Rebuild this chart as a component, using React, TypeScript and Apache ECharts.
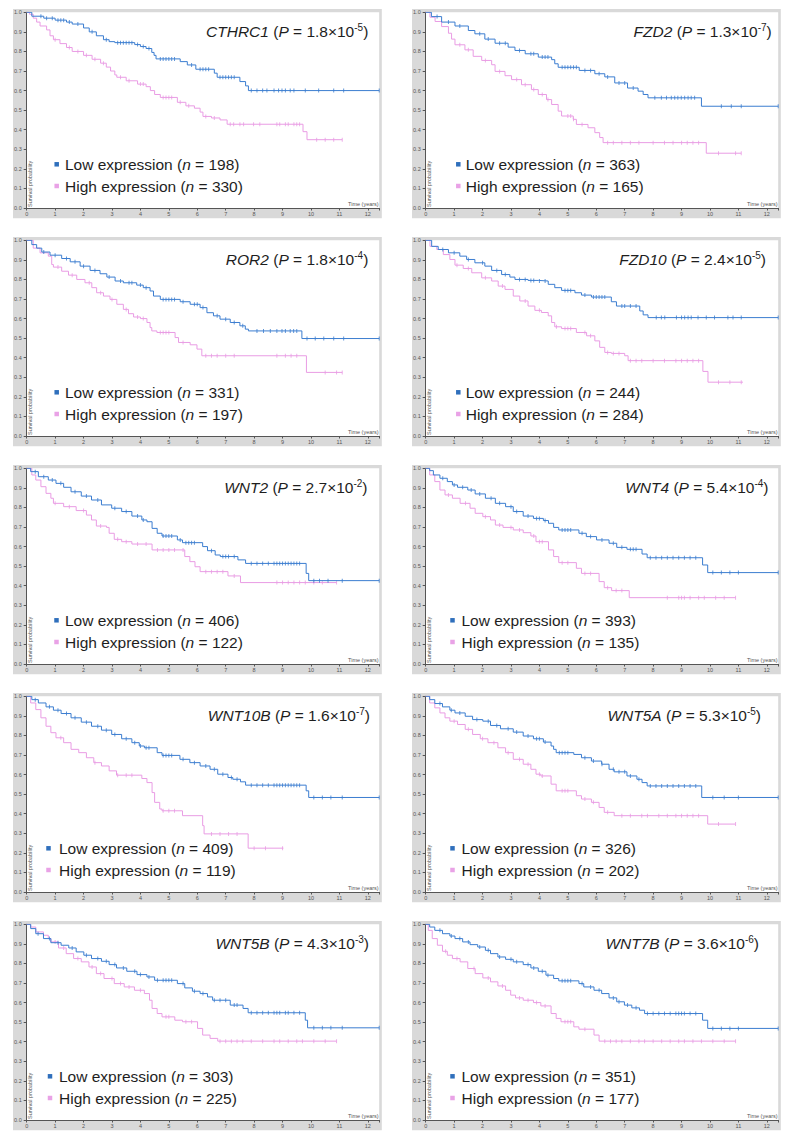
import React, { useEffect, useRef } from "react";
import * as echarts from "echarts";

type Pt = [number, number];

// ---------------- DATA ----------------
const GENES = ["CTHRC1", "FZD2", "ROR2", "FZD10", "WNT2", "WNT4", "WNT10B", "WNT5A", "WNT5B", "WNT7B"];
const P_MANTISSA = ["1.8", "1.3", "1.8", "2.4", "2.7", "5.4", "1.6", "5.3", "4.3", "3.6"];
const P_EXPONENT = ["-5", "-7", "-4", "-5", "-2", "-4", "-7", "-5", "-3", "-6"];
const N_LOW = [198, 363, 331, 244, 406, 393, 409, 326, 303, 351];
const N_HIGH = [330, 165, 197, 284, 122, 135, 119, 202, 225, 177];
const X_MAX = 12.4;
const Y_TICK_LABELS = ["0.0", "0.1", "0.2", "0.3", "0.4", "0.5", "0.6", "0.7", "0.8", "0.9", "1.0"];

const CTHRC1_LOW: Pt[] = [[0,1],[0.18,0.98],[0.6,0.97],[1.0,0.96],[1.4,0.95],[1.6,0.94],[2.0,0.92],[2.2,0.9],[2.45,0.88],[2.7,0.86],[2.9,0.85],[3.1,0.845],[3.8,0.835],[4.0,0.825],[4.2,0.815],[4.4,0.795],[4.48,0.78],[4.55,0.762],[5.4,0.748],[5.65,0.731],[5.95,0.709],[6.6,0.689],[6.7,0.668],[7.5,0.646],[7.7,0.624],[7.8,0.6],[12.4,0.6]];
const CTHRC1_LOW_CENS = [0.5,0.7,0.9,1.1,1.2,1.3,1.5,1.8,2.3,2.8,3.2,3.3,3.4,3.5,3.6,3.7,3.9,4.1,4.3,4.7,4.8,4.9,5.0,5.1,5.2,5.8,6.1,6.2,6.3,6.4,6.8,6.9,7.0,7.1,7.2,7.3,7.9,8.1,8.3,8.45,8.7,8.86,8.98,9.1,9.27,9.4,9.8,10.27,10.8,11.15,12.4];
const CTHRC1_HIGH: Pt[] = [[0,1],[0.1,0.99],[0.23,0.97],[0.35,0.95],[0.47,0.93],[0.7,0.91],[0.82,0.88],[0.94,0.86],[1.17,0.84],[1.4,0.82],[1.6,0.8],[2.0,0.78],[2.3,0.76],[2.6,0.74],[2.8,0.72],[2.95,0.7],[3.1,0.68],[3.17,0.668],[3.5,0.65],[3.9,0.633],[4.2,0.62],[4.35,0.6],[4.5,0.58],[4.7,0.565],[5.3,0.54],[5.6,0.522],[5.9,0.51],[6.1,0.49],[6.2,0.468],[6.5,0.46],[6.8,0.45],[7.05,0.428],[9.72,0.39],[9.86,0.349],[11.1,0.349]];
const CTHRC1_HIGH_CENS = [1.0,1.5,1.8,2.1,2.4,2.7,3.3,3.6,4.0,4.1,4.8,4.9,5.0,5.1,5.4,5.7,6.3,6.6,7.16,7.28,7.5,7.63,7.98,8.2,8.8,8.9,9.1,9.2,9.4,9.5,9.6,10.2,10.5,10.8,11.1];

const FZD2_LOW: Pt[] = [[0,1],[0.2,0.978],[0.56,0.95],[1.03,0.93],[1.5,0.907],[1.73,0.89],[2.08,0.863],[2.44,0.842],[2.9,0.822],[3.14,0.805],[3.5,0.788],[3.96,0.771],[4.43,0.758],[4.54,0.737],[4.66,0.719],[5.4,0.703],[5.95,0.686],[6.3,0.67],[6.65,0.639],[7.1,0.613],[7.47,0.597],[7.65,0.58],[7.82,0.563],[9.7,0.52],[12.4,0.52]];
const FZD2_LOW_CENS = [0.4,0.8,1.2,1.9,2.2,2.6,2.8,3.3,3.7,3.8,4.1,4.2,4.3,4.8,4.9,5.0,5.1,5.2,5.3,5.6,5.8,6.1,6.4,6.8,7.0,7.3,8.06,8.29,8.47,8.64,8.76,8.87,8.99,9.11,9.23,9.34,9.46,10.4,10.75,11.1,12.4];
const FZD2_HIGH: Pt[] = [[0,1],[0.15,0.975],[0.33,0.953],[0.56,0.927],[0.8,0.893],[0.91,0.863],[1.03,0.834],[1.38,0.808],[1.67,0.775],[1.97,0.754],[2.32,0.732],[2.44,0.698],[2.79,0.676],[3.02,0.656],[3.37,0.63],[3.72,0.605],[3.96,0.58],[4.25,0.554],[4.43,0.529],[4.66,0.495],[4.78,0.47],[5.19,0.453],[5.3,0.427],[5.71,0.41],[5.95,0.385],[6.12,0.36],[6.24,0.334],[9.87,0.28],[11.1,0.28]];
const FZD2_HIGH_CENS = [1.2,1.5,2.1,2.6,3.2,3.5,3.8,4.1,4.3,5.0,5.1,5.2,5.5,6.4,6.6,6.9,7.2,7.5,8.0,8.4,8.7,9.0,9.2,9.4,9.6,10.3,10.9,11.1];

const ROR2_LOW: Pt[] = [[0,1],[0.18,0.978],[0.35,0.96],[0.53,0.94],[0.82,0.924],[1.23,0.907],[1.53,0.89],[1.88,0.868],[2.23,0.846],[2.58,0.829],[2.82,0.812],[3.11,0.792],[3.4,0.783],[3.87,0.771],[4.1,0.758],[4.34,0.741],[4.46,0.715],[4.7,0.698],[5.4,0.686],[5.75,0.673],[6.1,0.656],[6.34,0.63],[6.57,0.614],[6.8,0.597],[7.16,0.58],[7.5,0.563],[7.69,0.546],[7.8,0.537],[9.68,0.498],[12.4,0.498]];
const ROR2_LOW_CENS = [0.6,1.0,1.4,1.7,2.0,2.4,2.9,3.3,3.6,3.7,4.0,4.2,4.8,4.9,5.0,5.1,5.2,5.5,5.9,6.0,6.2,6.7,7.0,7.3,7.6,8.1,8.33,8.57,8.8,8.98,9.1,9.27,9.39,9.5,9.86,10.15,10.45,10.8,11.15,12.4];
const ROR2_HIGH: Pt[] = [[0,1],[0.23,0.96],[0.47,0.936],[0.76,0.919],[0.88,0.876],[0.94,0.863],[1.23,0.842],[1.47,0.822],[1.76,0.8],[2.05,0.783],[2.29,0.758],[2.46,0.732],[2.7,0.715],[2.93,0.698],[3.17,0.673],[3.4,0.647],[3.58,0.625],[3.76,0.608],[4.0,0.6],[4.23,0.58],[4.34,0.554],[4.4,0.537],[4.58,0.529],[5.22,0.503],[5.34,0.478],[5.75,0.466],[5.99,0.444],[6.16,0.41],[9.84,0.325],[11.1,0.325]];
const ROR2_HIGH_CENS = [1.1,1.6,2.2,2.6,3.0,3.5,3.9,4.1,4.7,4.8,4.9,5.0,5.5,6.3,6.5,6.7,7.0,7.3,8.8,9.1,9.3,9.5,10.5,10.9,11.1];

const FZD10_LOW: Pt[] = [[0,1],[0.21,0.969],[0.44,0.953],[0.8,0.936],[1.2,0.919],[1.44,0.902],[1.73,0.885],[2.08,0.868],[2.32,0.846],[2.67,0.825],[2.96,0.812],[3.14,0.8],[3.6,0.795],[3.96,0.792],[4.31,0.775],[4.54,0.758],[4.78,0.744],[5.25,0.732],[5.48,0.72],[5.83,0.71],[6.53,0.686],[6.71,0.664],[7.53,0.639],[7.65,0.619],[7.82,0.605],[12.4,0.605]];
const FZD10_LOW_CENS = [0.6,1.0,1.5,2.0,2.5,2.8,3.3,3.5,3.7,3.8,4.0,4.2,4.9,5.0,5.1,5.6,5.9,6.0,6.1,6.2,6.3,6.9,7.0,7.2,7.4,8.11,8.29,8.41,8.82,9.0,9.11,9.23,9.34,9.58,9.87,10.16,10.63,10.81,11.1,12.4];
const FZD10_HIGH: Pt[] = [[0,1],[0.15,0.969],[0.39,0.953],[0.62,0.927],[0.85,0.902],[1.03,0.873],[1.32,0.856],[1.62,0.834],[1.97,0.808],[2.32,0.792],[2.55,0.766],[2.79,0.749],[3.08,0.715],[3.31,0.69],[3.6,0.664],[3.84,0.642],[4.07,0.631],[4.31,0.614],[4.43,0.58],[4.54,0.558],[4.78,0.549],[5.3,0.529],[5.66,0.512],[5.95,0.486],[6.12,0.453],[6.3,0.427],[6.53,0.422],[7.0,0.41],[7.12,0.385],[9.75,0.33],[9.93,0.275],[11.16,0.275]];
const FZD10_HIGH_CENS = [1.1,1.5,2.1,2.7,3.5,4.0,4.6,4.9,5.0,5.1,5.6,5.8,6.4,6.6,6.8,7.2,7.4,7.6,8.0,8.4,8.8,9.0,9.2,9.4,9.6,10.3,10.7,11.1];

const WNT2_LOW: Pt[] = [[0,1],[0.14,0.983],[0.41,0.957],[0.76,0.94],[1.03,0.923],[1.3,0.903],[1.56,0.88],[1.92,0.858],[2.28,0.838],[2.63,0.813],[2.99,0.796],[3.34,0.779],[3.7,0.756],[4.05,0.736],[4.23,0.727],[4.41,0.693],[4.59,0.668],[4.76,0.654],[5.3,0.634],[5.48,0.62],[6.19,0.6],[6.36,0.579],[6.63,0.557],[6.81,0.549],[7.43,0.532],[7.7,0.514],[9.83,0.463],[9.92,0.426],[12.4,0.426]];
const WNT2_LOW_CENS = [0.3,0.6,0.9,1.2,1.7,2.1,2.5,3.1,3.5,3.9,4.1,4.8,4.9,5.0,5.1,5.4,5.6,5.7,5.8,5.9,6.5,6.9,7.0,7.1,7.3,7.9,8.1,8.3,8.5,8.7,8.8,8.9,9.0,9.1,9.2,9.3,9.4,9.5,9.6,10.1,10.3,10.6,11.1,12.4];
const WNT2_HIGH: Pt[] = [[0,1],[0.18,0.966],[0.32,0.94],[0.5,0.906],[0.68,0.872],[0.85,0.847],[0.94,0.821],[1.3,0.804],[1.74,0.784],[2.1,0.761],[2.28,0.736],[2.45,0.705],[2.81,0.698],[2.9,0.668],[3.08,0.637],[3.34,0.625],[3.7,0.613],[4.41,0.583],[5.56,0.549],[5.74,0.523],[5.92,0.497],[6.1,0.472],[7.08,0.45],[7.52,0.416],[10.9,0.416]];
const WNT2_HIGH_CENS = [1.0,1.5,2.0,2.6,3.2,3.5,3.9,4.2,4.6,4.8,5.0,5.2,5.5,6.3,6.5,6.7,6.9,7.3,8.8,9.0,9.2,9.4,9.6,9.8,10.1,10.4,10.9];

const WNT4_LOW: Pt[] = [[0,1],[0.14,0.988],[0.27,0.966],[0.5,0.949],[0.76,0.932],[0.94,0.915],[1.12,0.903],[1.48,0.889],[1.74,0.869],[2.1,0.847],[2.45,0.821],[2.81,0.804],[3.08,0.779],[3.43,0.756],[3.79,0.744],[4.14,0.733],[4.32,0.719],[4.5,0.698],[4.68,0.685],[5.39,0.668],[5.65,0.651],[6.01,0.634],[6.45,0.617],[6.72,0.596],[7.08,0.586],[7.61,0.562],[7.79,0.543],[9.74,0.506],[9.92,0.467],[12.4,0.467]];
const WNT4_LOW_CENS = [0.6,1.0,1.3,1.6,1.9,2.3,2.6,3.0,3.2,3.6,3.9,4.0,4.2,4.8,4.9,5.0,5.1,5.5,5.8,6.2,6.6,6.9,7.2,7.3,7.4,7.9,8.1,8.3,8.5,8.7,8.9,9.1,9.3,9.5,10.1,10.4,10.7,11.0,12.4];
const WNT4_HIGH: Pt[] = [[0,1],[0.14,0.966],[0.32,0.932],[0.5,0.889],[0.68,0.864],[0.94,0.847],[1.21,0.821],[1.56,0.796],[1.74,0.77],[2.01,0.753],[2.28,0.736],[2.45,0.71],[2.72,0.698],[3.08,0.685],[3.43,0.671],[3.7,0.654],[3.88,0.625],[4.32,0.583],[4.5,0.549],[4.68,0.518],[5.3,0.489],[5.48,0.463],[6.1,0.421],[6.28,0.39],[6.54,0.375],[7.16,0.339],[10.9,0.339]];
const WNT4_HIGH_CENS = [0.8,1.4,2.1,2.6,3.0,3.3,3.8,4.0,4.1,4.8,5.0,5.6,5.8,6.4,6.7,6.9,8.5,8.9,9.0,9.1,9.3,9.6,9.8,10.2,10.5,10.9];

const WNT10B_LOW: Pt[] = [[0,1],[0.18,0.983],[0.41,0.966],[0.68,0.946],[0.94,0.929],[1.21,0.912],[1.56,0.89],[1.92,0.868],[2.28,0.847],[2.63,0.827],[2.99,0.805],[3.34,0.783],[3.7,0.763],[3.96,0.746],[4.14,0.737],[4.59,0.712],[4.76,0.698],[5.39,0.678],[5.74,0.661],[6.1,0.644],[6.45,0.627],[6.72,0.602],[7.08,0.585],[7.25,0.576],[7.52,0.563],[7.7,0.546],[9.83,0.517],[9.92,0.483],[12.4,0.483]];
const WNT10B_LOW_CENS = [0.3,0.8,1.1,1.4,1.7,2.1,2.5,2.8,3.1,3.5,3.8,4.0,4.2,4.3,4.8,4.9,5.0,5.1,5.5,5.9,6.3,6.6,6.9,7.2,7.4,7.9,8.1,8.3,8.5,8.7,8.8,8.9,9.0,9.1,9.2,9.3,9.4,9.5,9.6,10.1,10.4,10.7,11.1,12.4];
const WNT10B_HIGH: Pt[] = [[0,1],[0.14,0.966],[0.32,0.932],[0.5,0.89],[0.68,0.847],[0.85,0.814],[1.03,0.788],[1.3,0.763],[1.56,0.729],[1.83,0.712],[2.1,0.686],[2.36,0.661],[2.63,0.644],[2.9,0.619],[3.16,0.597],[4.05,0.58],[4.23,0.559],[4.41,0.508],[4.5,0.458],[4.68,0.424],[4.76,0.415],[5.48,0.39],[6.19,0.339],[6.24,0.297],[7.79,0.224],[9.03,0.224]];
const WNT10B_HIGH_CENS = [1.2,2.4,3.2,3.5,3.7,4.8,5.0,5.2,6.5,6.8,7.1,7.4,8.0,8.4,9.0];

const WNT5A_LOW: Pt[] = [[0,1],[0.14,0.983],[0.32,0.963],[0.59,0.946],[0.85,0.929],[1.03,0.915],[1.39,0.898],[1.65,0.881],[2.01,0.873],[2.28,0.851],[2.63,0.834],[3.08,0.817],[3.43,0.797],[3.79,0.783],[4.14,0.766],[4.41,0.746],[4.5,0.729],[4.59,0.712],[5.21,0.703],[5.48,0.686],[5.83,0.669],[6.19,0.653],[6.45,0.627],[6.63,0.614],[7.08,0.593],[7.43,0.576],[7.61,0.559],[7.79,0.542],[9.71,0.483],[12.4,0.483]];
const WNT5A_LOW_CENS = [0.5,0.9,1.2,1.8,2.2,2.5,2.9,3.2,3.6,3.9,4.0,4.2,4.7,4.8,4.9,5.0,5.6,5.9,6.2,6.6,6.8,7.0,7.2,7.5,7.9,8.1,8.3,8.5,8.7,8.9,9.1,9.3,9.5,10.1,10.5,11.0,12.4];
const WNT5A_HIGH: Pt[] = [[0,1],[0.14,0.966],[0.32,0.941],[0.5,0.915],[0.68,0.89],[0.85,0.873],[1.12,0.856],[1.39,0.831],[1.65,0.805],[1.92,0.783],[2.19,0.763],[2.54,0.737],[2.81,0.712],[3.08,0.678],[3.43,0.653],[3.7,0.627],[3.88,0.602],[4.05,0.593],[4.41,0.551],[4.59,0.517],[5.3,0.492],[5.48,0.475],[5.83,0.458],[6.1,0.432],[6.28,0.407],[6.63,0.39],[9.92,0.347],[10.9,0.347]];
const WNT5A_HIGH_CENS = [1.0,1.5,2.0,2.4,2.9,3.3,3.6,4.0,4.1,4.8,4.9,5.0,5.6,5.9,6.4,6.9,7.2,7.6,7.8,8.2,8.5,8.8,9.0,9.2,9.4,9.6,10.3,10.9];

const WNT5B_LOW: Pt[] = [[0,1],[0.14,0.978],[0.32,0.952],[0.59,0.927],[0.85,0.906],[1.21,0.893],[1.48,0.879],[1.74,0.859],[2.01,0.842],[2.28,0.825],[2.63,0.811],[2.9,0.794],[3.16,0.777],[3.52,0.76],[3.88,0.743],[4.23,0.731],[4.5,0.714],[5.3,0.697],[5.56,0.675],[5.83,0.658],[6.1,0.646],[6.36,0.629],[6.54,0.612],[7.16,0.587],[7.61,0.57],[7.79,0.548],[9.8,0.51],[9.88,0.471],[12.4,0.471]];
const WNT5B_LOW_CENS = [0.4,0.8,1.1,1.6,2.1,2.5,2.8,3.1,3.4,3.8,4.0,4.3,4.6,4.8,4.9,5.0,5.1,5.5,5.9,6.2,6.6,6.8,7.0,7.3,7.4,7.9,8.1,8.3,8.5,8.7,8.8,8.9,9.1,9.2,9.4,9.6,10.1,10.4,10.7,11.1,12.4];
const WNT5B_HIGH: Pt[] = [[0,1],[0.14,0.986],[0.32,0.961],[0.59,0.944],[0.76,0.927],[0.85,0.91],[1.12,0.879],[1.39,0.85],[1.65,0.825],[1.92,0.808],[2.19,0.782],[2.45,0.748],[2.72,0.723],[3.08,0.697],[3.43,0.68],[3.79,0.663],[4.14,0.646],[4.32,0.612],[4.41,0.57],[4.59,0.544],[4.76,0.527],[5.21,0.51],[5.48,0.502],[6.01,0.468],[6.19,0.434],[6.45,0.417],[6.72,0.403],[10.9,0.403]];
const WNT5B_HIGH_CENS = [1.0,1.3,1.8,2.3,2.6,3.0,3.3,3.6,4.0,4.9,5.0,5.6,5.8,6.8,7.0,7.2,7.4,7.6,7.9,8.3,8.7,8.9,9.2,9.5,9.7,10.1,10.5,10.9];

const WNT7B_LOW: Pt[] = [[0,1],[0.14,0.986],[0.32,0.969],[0.59,0.952],[0.85,0.94],[1.03,0.927],[1.3,0.91],[1.56,0.896],[1.83,0.884],[2.1,0.867],[2.28,0.85],[2.54,0.833],[2.81,0.821],[3.08,0.808],[3.43,0.794],[3.7,0.777],[3.96,0.76],[4.23,0.74],[4.5,0.723],[4.68,0.711],[5.39,0.697],[5.56,0.68],[5.92,0.663],[6.19,0.646],[6.45,0.624],[6.72,0.604],[6.99,0.587],[7.25,0.573],[7.52,0.561],[7.7,0.544],[9.74,0.51],[9.92,0.468],[12.4,0.468]];
const WNT7B_LOW_CENS = [0.5,0.9,1.2,1.5,1.9,2.2,2.6,3.0,3.2,3.6,3.8,4.1,4.3,4.8,4.9,5.0,5.1,5.5,5.8,6.1,6.6,6.8,7.1,7.4,7.8,8.0,8.2,8.4,8.6,8.8,8.9,9.0,9.1,9.3,9.5,10.1,10.4,10.7,11.0,12.4];
const WNT7B_HIGH: Pt[] = [[0,1],[0.09,0.969],[0.23,0.927],[0.41,0.893],[0.59,0.862],[0.76,0.842],[0.94,0.825],[1.21,0.808],[1.48,0.774],[1.74,0.748],[2.01,0.726],[2.28,0.706],[2.54,0.685],[2.81,0.663],[2.99,0.638],[3.16,0.624],[3.43,0.612],[3.79,0.6],[4.05,0.583],[4.41,0.544],[4.59,0.519],[4.76,0.502],[5.21,0.476],[5.39,0.464],[5.92,0.434],[6.1,0.403],[10.9,0.403]];
const WNT7B_HIGH_CENS = [0.7,1.1,1.7,2.2,2.7,3.3,3.6,3.9,4.2,4.9,5.0,5.1,5.6,6.3,6.5,6.7,6.9,7.2,7.5,7.7,8.0,8.3,8.6,8.9,9.1,9.4,9.7,10.1,10.5,10.9];

const LOW_CURVES: Pt[][] = [CTHRC1_LOW, FZD2_LOW, ROR2_LOW, FZD10_LOW, WNT2_LOW, WNT4_LOW, WNT10B_LOW, WNT5A_LOW, WNT5B_LOW, WNT7B_LOW];
const LOW_CENSORS: number[][] = [CTHRC1_LOW_CENS, FZD2_LOW_CENS, ROR2_LOW_CENS, FZD10_LOW_CENS, WNT2_LOW_CENS, WNT4_LOW_CENS, WNT10B_LOW_CENS, WNT5A_LOW_CENS, WNT5B_LOW_CENS, WNT7B_LOW_CENS];
const HIGH_CURVES: Pt[][] = [CTHRC1_HIGH, FZD2_HIGH, ROR2_HIGH, FZD10_HIGH, WNT2_HIGH, WNT4_HIGH, WNT10B_HIGH, WNT5A_HIGH, WNT5B_HIGH, WNT7B_HIGH];
const HIGH_CENSORS: number[][] = [CTHRC1_HIGH_CENS, FZD2_HIGH_CENS, ROR2_HIGH_CENS, FZD10_HIGH_CENS, WNT2_HIGH_CENS, WNT4_HIGH_CENS, WNT10B_HIGH_CENS, WNT5A_HIGH_CENS, WNT5B_HIGH_CENS, WNT7B_HIGH_CENS];

// ---------------- LAYOUT / STYLE ----------------
const W = 790;
const H = 1142;
const COL_LEFT = [26.7, 425.7];
const PLOT_W = 352.5;
const PLOT_H = 195.7;
const ROW_TOP0 = 12.3;
const ROW_STEP = 228;
const TITLE_RIGHT_EDGE = [368.3, 771.7, 368.3, 766, 367.5, 768.5, 370, 761, 369, 759];
const LEGEND_MARK_DX = [30, 32.6, 30, 32.6, 29.8, 26.8, 21.8, 26.8, 23.3, 26.8];
const LEGEND_TEXT_DX = [38.3, 40, 38.3, 40, 38.3, 35.8, 32.3, 35.8, 32.3, 35.8];

const FONT = "'Liberation Sans', Arial, Helvetica, sans-serif";
const BLUE = "#3b7dd0";
const BLUE_MARK = "#2f6fbc";
const PINK = "#e99ce4";
const PINK_MARK = "#e9a2e6";
const FRAME = "#d9d9d9";
const AXIS = "#555";
const TEXT = "#1e1e1e";
const FS = 15.5;

function survAt(curve: Pt[], t: number): number {
  let s = curve[0][1];
  for (const [tt, ss] of curve) {
    if (tt <= t + 1e-9) s = ss;
    else break;
  }
  return s;
}

function buildOption() {
  const grid: any[] = [];
  const xAxis: any[] = [];
  const yAxis: any[] = [];
  const series: any[] = [];
  const title: any[] = [];
  const graphic: any[] = [];

  const richBase = {
    n: { fontFamily: FONT, fontSize: FS, fontWeight: "normal", color: TEXT, lineHeight: 18 },
    i: { fontFamily: FONT, fontSize: FS, fontWeight: "normal", color: TEXT, fontStyle: "italic", lineHeight: 18 },
    s: { fontFamily: FONT, fontSize: 10, fontWeight: "normal", color: TEXT, lineHeight: 11, verticalAlign: "top" },
  };
  const baseText = { rich: richBase, fontFamily: FONT, fontSize: FS, fontWeight: "normal", color: TEXT };

  GENES.forEach((gene, i) => {
    const col = i % 2;
    const row = Math.floor(i / 2);
    const left = COL_LEFT[col];
    const top = ROW_TOP0 + ROW_STEP * row;

    graphic.push({
      type: "rect",
      z: -100,
      shape: { x: left - 13.7, y: top - 3.3, width: PLOT_W + 16.3, height: PLOT_H + 13.5 },
      style: { fill: FRAME },
    });
    graphic.push({
      type: "text",
      z: 100,
      x: left + PLOT_W - 0.5,
      y: top + PLOT_H - 1,
      style: { text: "Time (years)", fontSize: 5.5, fontFamily: FONT, fill: "#555", align: "right", verticalAlign: "bottom" },
    });
    graphic.push({
      type: "text",
      z: 100,
      x: left + 3.5,
      y: top + PLOT_H - 1,
      rotation: Math.PI / 2,
      style: { text: "Survival probability", fontSize: 5.5, fontFamily: FONT, fill: "#555", align: "left", verticalAlign: "middle" },
    });
    graphic.push({
      type: "rect",
      z: 100,
      shape: { x: left + LEGEND_MARK_DX[i] - 2.25, y: top + 152 - 2.25, width: 4.5, height: 4.5 },
      style: { fill: BLUE_MARK },
    });
    graphic.push({
      type: "rect",
      z: 100,
      shape: { x: left + LEGEND_MARK_DX[i] - 2.25, y: top + 173.7 - 2.25, width: 4.5, height: 4.5 },
      style: { fill: PINK_MARK },
    });

    grid.push({ left, top, width: PLOT_W, height: PLOT_H, show: true, backgroundColor: "#fff", borderWidth: 0 });
    xAxis.push({
      gridIndex: i,
      type: "value",
      min: 0,
      max: X_MAX,
      interval: 1,
      axisLine: { show: true, lineStyle: { color: AXIS, width: 1 } },
      axisTick: { show: true, length: 2.5, lineStyle: { color: AXIS } },
      axisLabel: {
        fontSize: 5.5,
        color: "#555",
        fontFamily: FONT,
        margin: 2.5,
        formatter: (v: number) => (Math.abs(v - Math.round(v)) < 1e-6 ? String(Math.round(v)) : ""),
      },
      splitLine: { show: false },
    });
    yAxis.push({
      gridIndex: i,
      type: "value",
      min: 0,
      max: 1,
      interval: 0.1,
      axisLine: { show: true, lineStyle: { color: AXIS, width: 1 } },
      axisTick: { show: true, length: 3, lineStyle: { color: AXIS } },
      axisLabel: {
        fontSize: 5.5,
        color: "#555",
        fontFamily: FONT,
        margin: 5,
        formatter: (v: number) => Y_TICK_LABELS[Math.round(v * 10)] ?? "",
      },
      splitLine: { show: false },
    });

    const groups = [
      { curve: HIGH_CURVES[i], cens: HIGH_CENSORS[i], color: PINK, z: 2 },
      { curve: LOW_CURVES[i], cens: LOW_CENSORS[i], color: BLUE, z: 3 },
    ];
    groups.forEach((g) => {
      series.push({
        type: "line",
        xAxisIndex: i,
        yAxisIndex: i,
        data: g.curve,
        step: "end",
        showSymbol: false,
        symbol: "none",
        silent: true,
        z: g.z,
        lineStyle: { color: g.color, width: 1 },
        itemStyle: { color: g.color },
      });
      series.push({
        type: "scatter",
        xAxisIndex: i,
        yAxisIndex: i,
        data: g.cens.map((t) => [t, survAt(g.curve, t)]),
        symbol: "rect",
        symbolSize: [1, 4],
        silent: true,
        z: g.z,
        itemStyle: { color: g.color },
      });
    });

    title.push({
      text: `{i|${gene}}{n| (}{i|P}{n| = ${P_MANTISSA[i]}×10}{s|${P_EXPONENT[i]}}{n|)}`,
      right: W - TITLE_RIGHT_EDGE[i],
      top: top + 10.4,
      padding: 0,
      textStyle: baseText,
    });
    title.push({
      text: `{n|Low expression (}{i|n}{n| = ${N_LOW[i]})}`,
      left: left + LEGEND_TEXT_DX[i],
      top: top + 143,
      padding: 0,
      textStyle: baseText,
    });
    title.push({
      text: `{n|High expression (}{i|n}{n| = ${N_HIGH[i]})}`,
      left: left + LEGEND_TEXT_DX[i],
      top: top + 164.7,
      padding: 0,
      textStyle: baseText,
    });
  });

  return {
    animation: false,
    backgroundColor: "#fff",
    title,
    grid,
    xAxis,
    yAxis,
    series,
    graphic: { elements: graphic },
  };
}

export default function App() {
  const ref = useRef<HTMLDivElement>(null);
  useEffect(() => {
    if (!ref.current) return;
    const chart = echarts.init(ref.current, undefined, { renderer: "svg", width: W, height: H });
    chart.setOption(buildOption() as any);
    return () => chart.dispose();
  }, []);
  return <div ref={ref} style={{ position: "absolute", left: 0, top: 0, width: W, height: H }} />;
}
